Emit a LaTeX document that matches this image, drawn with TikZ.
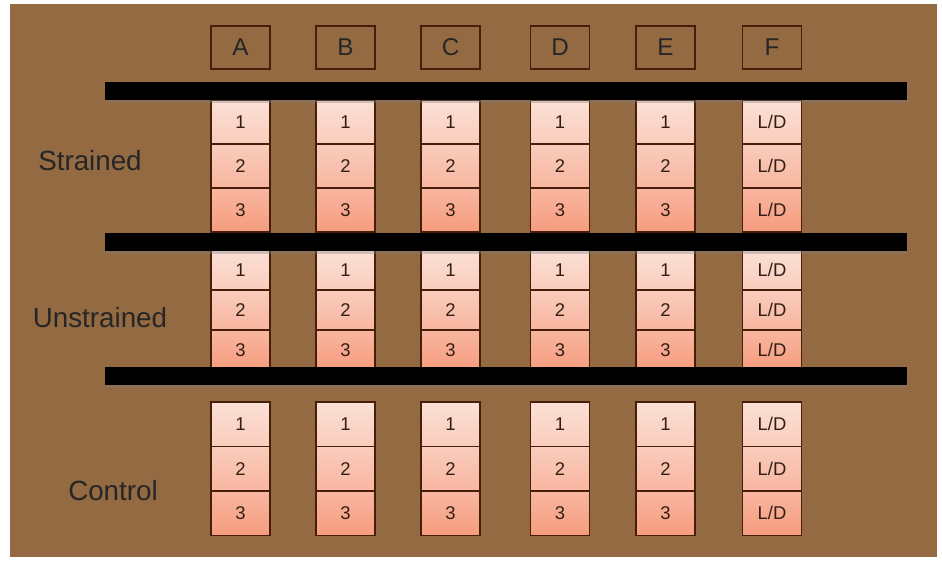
\documentclass[tikz,border=0pt]{standalone}
\usepackage{fontspec}
\setmainfont{Liberation Sans}
\usetikzlibrary{positioning, shadows}
\definecolor{board}{RGB}{148,106,66}
\definecolor{edge}{RGB}{70,30,10}
\definecolor{ink}{RGB}{50,30,20}
\definecolor{paleA}{RGB}{252,224,214}
\definecolor{paleB}{RGB}{249,204,188}
\definecolor{paleC}{RGB}{248,182,160}
\definecolor{paleD}{RGB}{246,156,126}
\tikzset{
  headbox/.style={draw=edge, thick, minimum width=1.18cm, minimum height=0.86cm,
    inner sep=0pt, text=black!85, font=\fontsize{13.8}{15}\selectfont},
  cell/.style={draw=edge, thick, minimum width=1.18cm, inner sep=0pt,
    text=ink, font=\fontsize{10.5}{12}\selectfont},
  cell1/.style={cell, top color=paleA, bottom color=paleB},
  cell2/.style={cell, top color=paleB, bottom color=paleC},
  cell3/.style={cell, top color=paleC, bottom color=paleD},
  bar/.style={fill=black, minimum width=16.04cm, minimum height=0.36cm, inner sep=0pt,
    drop shadow={shadow xshift=0.5pt, shadow yshift=-1.5pt, opacity=0.35}},
  rowlabel/.style={text=black!85, font=\fontsize{15.8}{18}\selectfont}
}
\begin{document}
\begin{tikzpicture}[x=0.02cm, y=-0.02cm]
		% Board
		\fill[white] (0,0) rectangle (942,561);
		\fill[board] (10,4) rectangle (937,557);
		% Column headers
		\foreach \col/\cx in {A/240.5, B/345.5, C/450.5, D/560, E/665.5, F/772}
			\node[headbox] (h\col) at (\cx,47.5) {\col};
		% Sample cells
		\foreach \grp/\ytop/\h in {s/100/44, u/250/40, c/402/44.5}{
			\foreach \col/\cx/\lab in {A/240.5/n, B/345.5/n, C/450.5/n, D/560/n, E/665.5/n, F/772/L}{
				\foreach \r in {1,2,3}{
					\pgfmathsetmacro{\cy}{\ytop+(\r-0.5)*\h}
					\node[cell\r, minimum height=\h*0.02cm] (\grp\col\r) at (\cx,\cy)
						{\if n\lab \r\else L/D\fi};
				}
			}
		}
		% Shelves
		\node[bar] (bar1) at (506,91) {};
		\node[bar] (bar2) at (506,242) {};
		\node[bar] (bar3) at (506,376) {};
		% Row labels
		\node[rowlabel] (strained) at (90,161) {Strained};
		\node[rowlabel] (unstrained) at (100,318) {Unstrained};
		\node[rowlabel] (control) at (113,491) {Control};
	\end{tikzpicture}
\end{document}
